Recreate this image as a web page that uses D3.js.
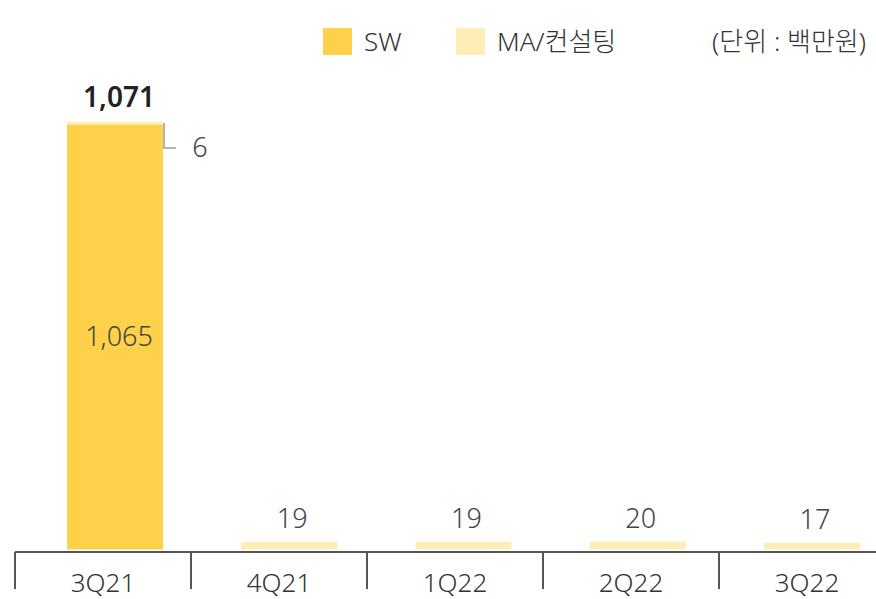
<!DOCTYPE html>
<html>
<head>
<meta charset="utf-8">
<script src="https://cdn.jsdelivr.net/npm/d3@7"></script>
<style>
  html, body { margin: 0; padding: 0; background: #fff; }
  svg { display: block; font-family: "Noto Sans", "Noto Sans CJK KR", sans-serif; font-weight: 300; }
</style>
</head>
<body>
<svg id="chart" width="876" height="599"></svg>
<script>
// dati (백만원)
const quarters = ["3Q21", "4Q21", "1Q22", "2Q22", "3Q22"];
const swValues = [1065, 0, 0, 0, 0];
const maValues = [6, 19, 19, 20, 17];
const seriesNames = ["SW", "MA/컨설팅"];
const seriesColors = ["#fdd24a", "#ffedb8"];
const unitLabel = "(단위 : 백만원)";

const W = 876, H = 599;
const svg = d3.select("#chart");

const baseY = 549.5;
const axisY = 552;

const y = d3.scaleLinear().domain([0, 1071]).range([baseY, 122]);

// barre e assi hanno passi leggermente diversi
const xBar = d3.scaleBand().domain(quarters)
  .range([27.9, 899.1]).paddingInner(0.449).paddingOuter(0.2245);
const xAxis = d3.scaleBand().domain(quarters).range([15, 895]);

const rows = quarters.map((q, i) => ({ q, sw: swValues[i], ma: maValues[i] }));
const stacked = d3.stack().keys(["sw", "ma"])(rows);

/* ── barre ─────────────────────────── */
svg.append("g").selectAll("g")
  .data(stacked)
  .join("g")
  .attr("fill", (d, i) => seriesColors[i])
  .selectAll("rect")
  .data(d => d.filter(s => s[1] - s[0] > 0))
  .join("rect")
  .attr("x", d => xBar(d.data.q))
  .attr("width", xBar.bandwidth())
  .attr("y", d => y(d[1]))
  .attr("height", d => y(d[0]) - y(d[1]));

/* ── asse ──────────────────────────── */
const axisG = svg.append("g");
axisG.append("line")
  .attr("x1", 15).attr("x2", W)
  .attr("y1", axisY).attr("y2", axisY)
  .attr("stroke", "#555").attr("stroke-width", 2);
axisG.selectAll("line.tick")
  .data(quarters)
  .join("line")
  .attr("class", "tick")
  .attr("x1", d => xAxis(d)).attr("x2", d => xAxis(d))
  .attr("y1", axisY).attr("y2", 589)
  .attr("stroke", "#555").attr("stroke-width", 2);
axisG.selectAll("text")
  .data(quarters)
  .join("text")
  .attr("x", d => xAxis(d) + xAxis.bandwidth() / 2)
  .attr("y", 592)
  .attr("text-anchor", "middle")
  .attr("font-size", 26)
  .attr("fill", "#333")
  .text(d => d);

/* ── etichette ─────────────────────── */
const fmt = d3.format(",");
const labels = svg.append("g").attr("text-anchor", "middle").attr("font-size", 27);

// barre piccole: solo MA
rows.forEach(r => {
  const cx = xBar(r.q) + xBar.bandwidth() / 2;
  if (r.sw > 0) {
    labels.append("text")
      .attr("x", cx + 4).attr("y", y(r.sw / 2) + 9)
      .attr("fill", "#444").text(fmt(r.sw));
    labels.append("text")
      .attr("x", cx + 4).attr("y", y(r.sw + r.ma) - 15)
      .attr("font-weight", 600).attr("font-size", 28)
      .attr("fill", "#222").text(fmt(r.sw + r.ma));
    // linea guida per il valore MA
    const rx = xBar(r.q) + xBar.bandwidth();
    const ty = y(r.sw + r.ma);
    svg.append("path")
      .attr("d", `M${rx + 1},${ty + 1}V${ty + 26}H${rx + 13}`)
      .attr("fill", "none").attr("stroke", "#999").attr("stroke-width", 1.5);
    labels.append("text")
      .attr("x", rx + 37).attr("y", ty + 35)
      .attr("fill", "#444").text(fmt(r.ma));
  } else {
    labels.append("text")
      .attr("x", cx + 3).attr("y", y(r.ma) - 14)
      .attr("fill", "#444").text(fmt(r.ma));
  }
});

/* ── legenda ───────────────────────── */
const legendX = [323, 456];
const legend = svg.append("g");
seriesNames.forEach((name, i) => {
  legend.append("rect")
    .attr("x", legendX[i]).attr("y", 28)
    .attr("width", 29).attr("height", 27)
    .attr("fill", seriesColors[i]);
  legend.append("text")
    .attr("x", legendX[i] + 41).attr("y", 51)
    .attr("font-size", 26).attr("fill", "#333")
    .text(name);
});
legend.append("text")
  .attr("x", 866).attr("y", 51)
  .attr("text-anchor", "end")
  .attr("font-size", 26).attr("fill", "#333")
  .text(unitLabel);
</script>
</body>
</html>
